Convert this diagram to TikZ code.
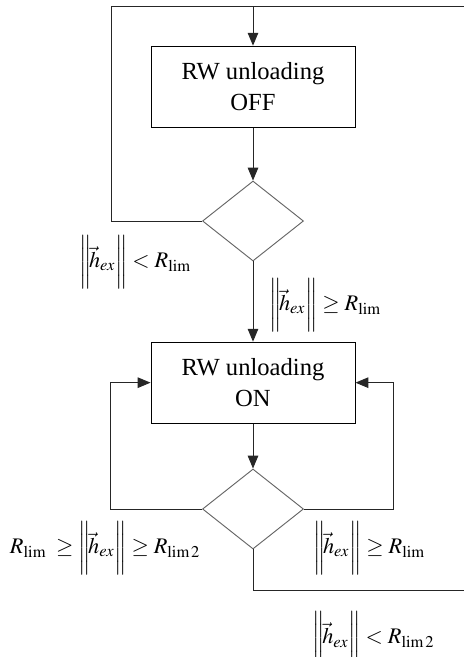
\documentclass[tikz,border=0pt]{standalone}
\usepackage{amsmath,amssymb}
\usepackage{mathptmx}
\usepackage[no-math]{fontspec}
\setmainfont{Liberation Serif}
\usepackage{tikz}
\usetikzlibrary{shapes.geometric, arrows.meta}
\usetikzlibrary{positioning}
\usetikzlibrary{calc}
\tikzset{
every picture/.style={line width=0.8pt, >={Triangle[length=11pt,width=9pt]}},
%%%%%%%%%%  Node styles
process_box/.style={rectangle, draw=black, thick, minimum width=6.12cm,
                    minimum height=2.43cm, align=center,
                    font=\fontsize{21}{27}\selectfont},
decision/.style={diamond, draw=black!60, minimum width=3.03cm,
                 minimum height=2.4cm, inner sep=0pt},
cond_label/.style={inner sep=0, outer sep=0, font=\fontsize{19}{23}\selectfont},
%%%%%%%%%%  Line styles
flow/.style={draw=black!85},
}
% tall norm bars, tight round h_ex
\newcommand{\hnorm}{\biggl\|\!\vec{h}_{ex}\biggr\|}

\begin{document}
\begin{tikzpicture}
\useasboundingbox (0,0) rectangle (13.92,-19.71);
%% unloading switched off
\node[process_box] (off_box) at (7.59,-2.6) {RW unloading\\OFF};
\node[decision] (off_dec) at (7.59,-6.63) {};
%% unloading switched on
\node[process_box] (on_box) at (7.59,-11.48) {RW unloading\\ON};
\node[decision] (on_dec) at (7.59,-15.27) {};
%% loop corners and free ends
\coordinate (top_l) at (3.33,-0.18);
\coordinate (top_m) at (7.59,-0.18);
\coordinate (top_r) at (13.92,-0.18);
\coordinate (on_l) at (3.3,-11.48);
\coordinate (on_r) at (11.8,-11.48);
\coordinate (bot_r) at (13.92,-17.7);
%% connectors
\draw[flow] (off_dec.west) -| (top_l) -- (top_r);
\draw[flow,->] (top_m) -- (off_box);
\draw[flow,->] (off_box) -- (off_dec);
\draw[flow,->] (off_dec) -- (on_box);
\draw[flow,->] (on_box) -- (on_dec);
\draw[flow,->] (on_dec.west) -| (on_l) -- (on_box.west);
\draw[flow,->] (on_dec.east) -| (on_r) -- (on_box.east);
\draw[flow] (on_dec.south) |- (bot_r);
%% conditions
\node[cond_label] (c_stay_off) at (4.05,-7.86) {$\hnorm < R_{\mathrm{lim}}$};
\node[cond_label] (c_go_on) at (9.75,-9.15) {$\hnorm \geq R_{\mathrm{lim}}$};
\node[cond_label] (c_mid) at (3.15,-16.44) {$R_{\mathrm{lim}}\;\geq \hnorm \geq R_{\mathrm{lim}\,2}$};
\node[cond_label] (c_stay_on) at (11.07,-16.44) {$\hnorm \geq R_{\mathrm{lim}}$};
\node[cond_label] (c_go_off) at (11.2,-19.15) {$\hnorm < R_{\mathrm{lim}\,2}$};
\end{tikzpicture}
\end{document}
